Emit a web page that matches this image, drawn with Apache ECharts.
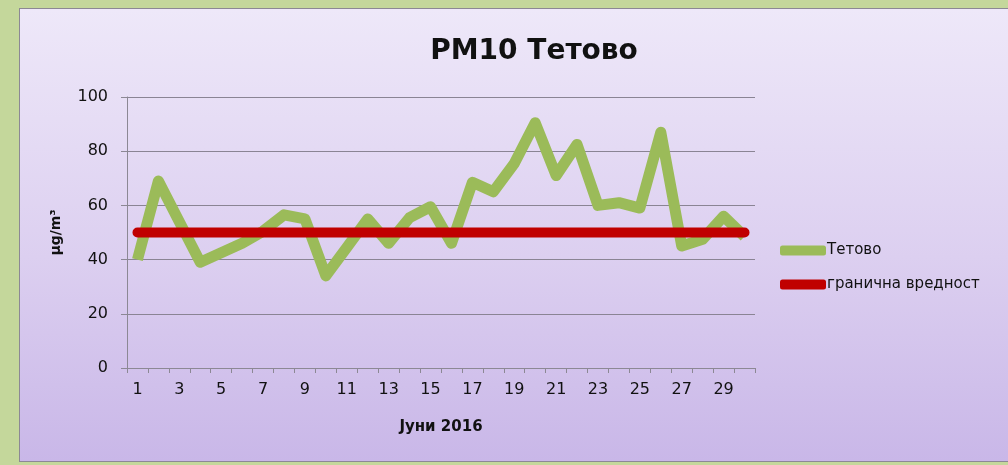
<!DOCTYPE html>
<html>
<head>
<meta charset="utf-8">
<script src="https://cdn.jsdelivr.net/npm/echarts@6/dist/echarts.min.js"></script>
<style>
    html, body { margin: 0; padding: 0; width: 1008px; height: 465px; overflow: hidden; background: #c4d79b; }
    #main {
        position: absolute; left: 19px; top: 8px; width: 1000px; height: 452px;
        border: 1px solid #8c8894;
        background: linear-gradient(to bottom, #eee8f9 0%, #dccff0 55%, #c9b7e8 100%);
    }
</style>
</head>
<body>
<div id="main"></div>
<script>
var days = [];
for (var d = 1; d <= 30; ++d) days.push(String(d));

// PM10 values, June 2016
var tetovo = [40, 69, 54, 39, 42.5, 46, 50.5, 56.5, 55, 34,
              44.5, 55, 46, 55.5, 59.5, 46, 68.5, 65, 75.5, 90.5,
              71, 82.5, 60, 61, 59, 87, 45, 47.5, 56, 48.5];
// limit value
var limit = [50, 50, 50, 50, 50, 50, 50, 50, 50, 50,
             50, 50, 50, 50, 50, 50, 50, 50, 50, 50,
             50, 50, 50, 50, 50, 50, 50, 50, 50, 50];

var font = '"Comic Sans MS", "DejaVu Sans", sans-serif';

var myChart = echarts.init(document.getElementById('main'));

var option = {
    animation: false,
    textStyle: { fontFamily: font },
    title: {
        text: 'PM10 Тетово',
        left: 509,
        textAlign: 'center',
        top: 24,
        textStyle: { fontFamily: font, fontSize: 28, fontWeight: 'bold', color: '#111' }
    },
    grid: {
        left: 107,
        top: 88,
        width: 628,
        height: 271
    },
    legend: {
        orient: 'vertical',
        left: 755,
        top: 229,
        itemWidth: 46,
        itemHeight: 10,
        itemGap: 19,
        icon: 'roundRect',
        textStyle: { fontFamily: font, fontSize: 15, color: '#111', padding: [0, 0, 0, -4] },
        data: ['Тетово', 'гранична вредност']
    },
    xAxis: {
        type: 'category',
        data: days,
        boundaryGap: true,
        name: 'Јуни 2016',
        nameLocation: 'middle',
        nameGap: 52,
        nameTextStyle: { fontFamily: font, fontSize: 15, fontWeight: 'bold', color: '#111' },
        axisLine: { lineStyle: { color: '#8c8894', width: 1 } },
        axisTick: { show: true, interval: 0, length: 5, lineStyle: { color: '#8c8894' } },
        axisLabel: { interval: 1, margin: 14, fontFamily: font, fontSize: 16, color: '#111' },
        splitLine: { show: false }
    },
    yAxis: {
        type: 'value',
        min: 0,
        max: 100,
        interval: 20,
        name: 'μg/m³',
        nameLocation: 'middle',
        nameRotate: 90,
        nameGap: 64,
        nameTextStyle: { fontFamily: font, fontSize: 14, fontWeight: 'bold', color: '#111' },
        axisLine: { show: true, lineStyle: { color: '#8c8894', width: 1 } },
        axisTick: { show: true, length: 6, lineStyle: { color: '#8c8894' } },
        axisLabel: { margin: 19, fontFamily: font, fontSize: 16, color: '#111' },
        splitLine: { show: true, lineStyle: { color: '#8a8494', width: 1 } }
    },
    series: [{
        name: 'Тетово',
        type: 'line',
        data: tetovo,
        showSymbol: false,
        symbol: 'none',
        itemStyle: { color: '#9bbb59' },
        lineStyle: { color: '#9bbb59', width: 11, join: 'round', cap: 'butt' }
    }, {
        name: 'гранична вредност',
        type: 'line',
        data: limit,
        showSymbol: false,
        symbol: 'none',
        itemStyle: { color: '#c00000' },
        lineStyle: { color: '#c00000', width: 10, cap: 'round' }
    }]
};
myChart.setOption(option, true);
</script>
</body>
</html>
